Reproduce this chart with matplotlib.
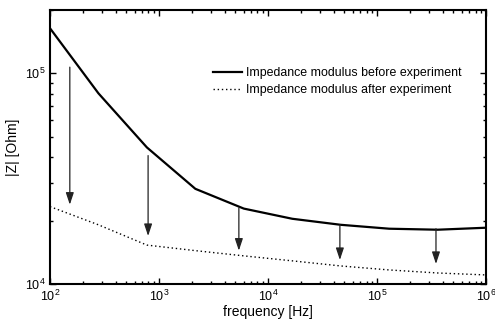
import matplotlib
matplotlib.use("Agg")
import matplotlib.pyplot as plt
from matplotlib.ticker import LogLocator, NullFormatter

plt.rcParams['font.family'] = ['Liberation Sans', 'DejaVu Sans']
plt.rcParams['mathtext.fontset'] = 'custom'
plt.rcParams['mathtext.rm'] = 'Liberation Sans'
plt.rcParams['mathtext.it'] = 'Liberation Sans'

# frequency points [Hz]
freq = [100, 278, 774, 2154, 5995, 16681, 46416, 129155, 359381, 1000000]
# |Z| before experiment [Ohm]
z_before = [163700, 80400, 44500, 28300, 22800, 20400, 19100, 18300, 18100, 18500]
# |Z| after experiment [Ohm]
z_after = [23300, 19100, 15300, 14400, 13600, 12880, 12180, 11660, 11280, 11040]

# arrows: frequency, start |Z|, end |Z|
arrow_freq = [152, 794, 5400, 45600, 347000]
arrow_start = [107000, 40700, 23000, 19100, 18300]
arrow_end = [23800, 16900, 14400, 13000, 12450]

fig = plt.figure(figsize=(4.95, 3.2), dpi=100)
ax = fig.add_axes([0.101, 0.1125, 0.881, 0.8565])

ax.plot(freq, z_before, color='black', lw=1.6, label='Impedance modulus before experiment')
ax.plot(freq, z_after, color='black', lw=1.0, linestyle=(0, (1, 2)),
        label='Impedance modulus after experiment')

for f, s, e in zip(arrow_freq, arrow_start, arrow_end):
    ax.annotate('', xy=(f, e), xytext=(f, s),
                arrowprops=dict(arrowstyle='-|>,head_length=0.6,head_width=0.2',
                                color='#222222', lw=0.9,
                                mutation_scale=12, shrinkA=0, shrinkB=0))

ax.set_xscale('log')
ax.set_yscale('log')
ax.set_xlim(1e2, 1e6)
ax.set_ylim(1e4, 2e5)

ax.xaxis.set_major_locator(LogLocator(base=10, numticks=10))
ax.yaxis.set_major_locator(LogLocator(base=10, numticks=10))
ax.yaxis.set_minor_formatter(NullFormatter())
ax.xaxis.set_minor_formatter(NullFormatter())

ax.tick_params(which='both', direction='in', top=True, right=True, labelsize=9)
ax.tick_params(which='major', length=4, width=1)
ax.tick_params(which='minor', length=2.5, width=1)
for sp in ax.spines.values():
    sp.set_linewidth(1.5)

ax.set_xlabel('frequency [Hz]', fontsize=10, labelpad=1)
ax.set_ylabel('|Z| [Ohm]', fontsize=10, labelpad=3)

ax.legend(loc='upper left', bbox_to_anchor=(0.362, 0.81), frameon=False,
          fontsize=8.9, handlelength=2.4, handletextpad=0.3, labelspacing=0.4,
          borderaxespad=0)

fig.savefig('out.png', dpi=100)
